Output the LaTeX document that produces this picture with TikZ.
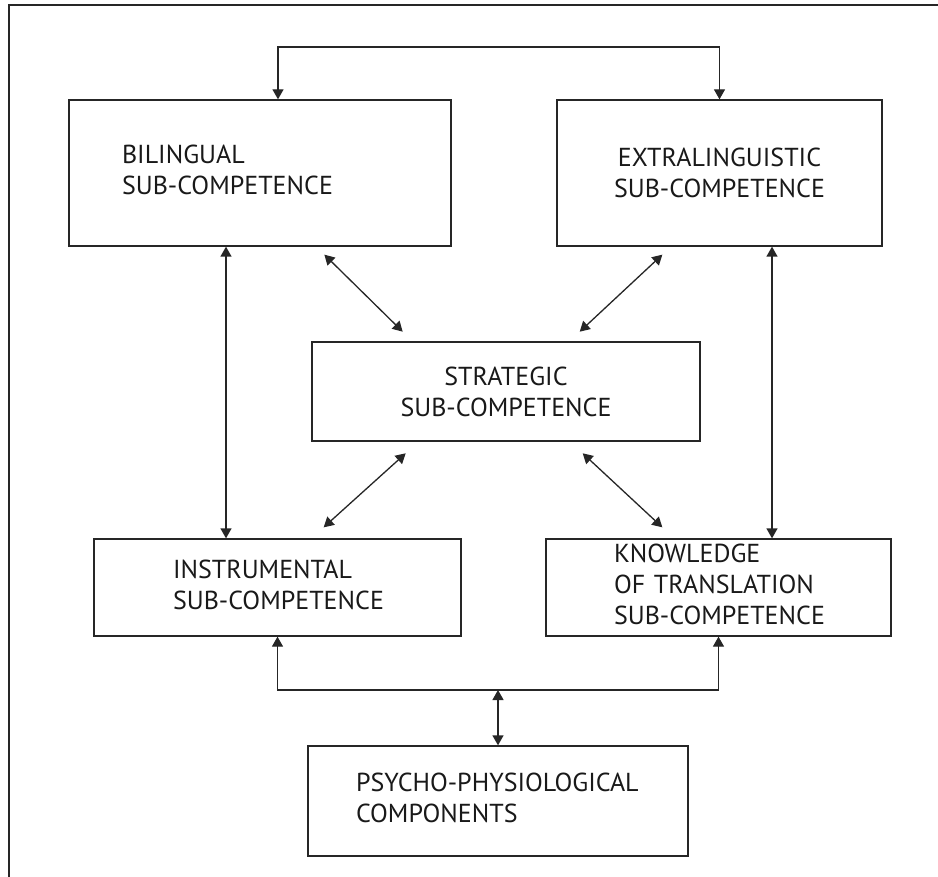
\documentclass[tikz,border=0pt]{standalone}
\usepackage{fontspec}
\setmainfont{PT Sans}
\usetikzlibrary{arrows.meta,calc}

\begin{document}
\begin{tikzpicture}[
    x=1pt, y=-1pt,
    box/.style={rectangle,draw=black!85,line width=1.3pt,inner xsep=0pt,inner ysep=0pt,text=black!90,font=\fontsize{26}{31}\selectfont},
    dbl/.style={{Triangle[length=10pt,width=11pt]}-{Triangle[length=10pt,width=11pt]},line width=1.3pt,draw=black!85}
]
\useasboundingbox (0,0) rectangle (938,877);

% Frame
\draw[line width=2.2pt,black!85] (938,5) -| (9,877);

% Sub-competences
\node[box,text width=382pt,minimum height=146pt,align=left] (bil) at (260,173)
    {\hspace*{53pt}\begin{tabular}{@{}l@{}}BILINGUAL\\SUB-COMPETENCE\end{tabular}};
\node[box,text width=325pt,minimum height=146pt,align=center] (ext) at (719.5,173)
    {EXTRALINGUISTIC\\SUB-COMPETENCE};
\node[box,text width=388pt,minimum height=99pt,align=center,line width=2.6pt] (str) at (506,391.5)
    {STRATEGIC\\SUB-COMPETENCE};
\node[box,text width=367pt,minimum height=97pt,align=left] (ins) at (277.5,587.5)
    {\hspace*{79pt}\begin{tabular}{@{}l@{}}INSTRUMENTAL\\SUB-COMPETENCE\end{tabular}};
\node[box,text width=345pt,minimum height=97pt,align=left] (kno) at (718.5,587.5)
    {\hspace*{68pt}\begin{tabular}{@{}l@{}}KNOWLEDGE\\OF TRANSLATION\\SUB-COMPETENCE\end{tabular}};
\node[box,text width=380pt,minimum height=110pt,align=left] (psy) at (498,801)
    {\hspace*{48pt}\begin{tabular}{@{}l@{}}PSYCHO-PHYSIOLOGICAL\\COMPONENTS\end{tabular}};

% Buses
\coordinate (top) at (498,47);
\coordinate (bus) at (498,690);

% Arrows
\draw[dbl] ([xshift=18pt]bil.north) -- ([xshift=18pt]bil.north |- top) -| (ext.north);
\draw[dbl] ([xshift=-34pt]bil.south) -- ([xshift=-34pt]bil.south |- ins.north);
\draw[dbl] ([xshift=52.5pt]ext.south) -- ([xshift=52.5pt]ext.south |- kno.north);
\draw[dbl] ($(bil.south west)+(256,8)$) -- ($(str.north west)+(92,-9)$);
\draw[dbl] ($(ext.south west)+(106,8)$) -- ($(str.north west)+(269,-9)$);
\draw[dbl] ($(str.south west)+(95,11)$) -- ($(ins.north east)+(-138,-11)$);
\draw[dbl] ($(str.south west)+(272,11)$) -- ($(kno.north west)+(117,-11)$);
\draw[dbl] (ins.south) -- (ins.south |- bus) -- (kno.south |- bus) -- (kno.south);
\draw[dbl] (bus) -- (psy.north);

\end{tikzpicture}
\end{document}
